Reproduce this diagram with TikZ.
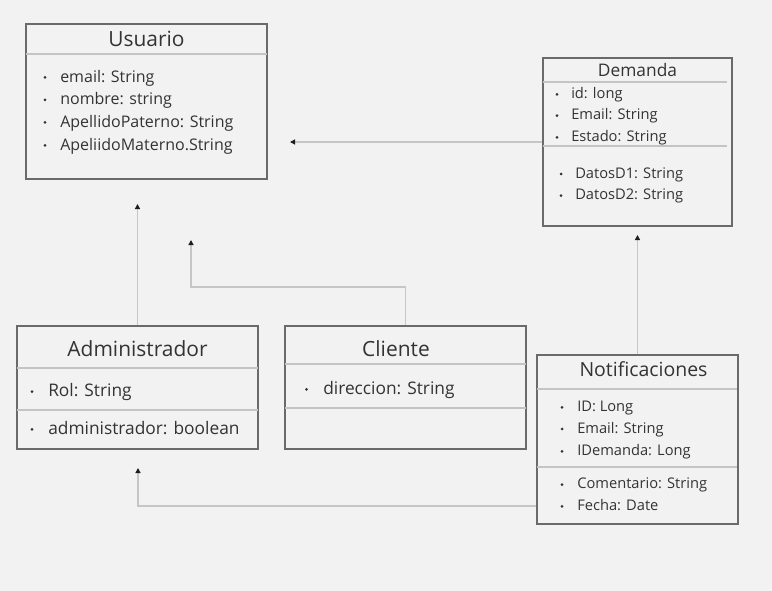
\documentclass[tikz,border=0pt]{standalone}
\usepackage{fontspec}
\setmainfont{Open Sans}
\usetikzlibrary{arrows.meta,fit}
\definecolor{bgc}{HTML}{F2F2F2}
\definecolor{txt}{HTML}{333333}
\definecolor{brd}{HTML}{6A6A6A}
\definecolor{sepc}{HTML}{C4C4C4}
\definecolor{conc}{HTML}{C6C6C6}
\definecolor{tipc}{HTML}{1E1E1E}
\newcommand\fs[1]{\fontsize{#1}{#1}\selectfont}
\tikzset{
  umlbox/.style={draw=brd, line width=1pt, inner sep=0pt},
  sepline/.style={draw=sepc, line width=1.1pt},
  conn/.style={draw=conc, line width=1.1pt, -{Triangle[length=3.8pt,width=3.8pt,color=tipc]}},
  ttl/.style={text=txt, inner sep=0pt, font=\fs{#1}, text height={0.714*#1pt}, text depth=0pt, anchor=center},
  itemtxt/.style={text=txt, inner sep=0pt, font=\fs{#1}, text height={0.714*#1pt}, text depth=0pt, anchor=west},
}
% name, font size (pt), bullet x, text x, y, text
\newcommand\itm[6]{%
  \fill[txt] (#3,#5+1) circle (1.5);
  \node[itemtxt=#2] (#1) at (#4,#5) {#6};}
\begin{document}
\begin{tikzpicture}[x=0.75pt,y=-0.75pt]
\fill[bgc] (0,0) rectangle (772,591);
\useasboundingbox (0,0) rectangle (772,591);

% ---------- Usuario
\node[umlbox, fit={(26,24) (267,179)}] (usuario) {};
\node[ttl=15.7] (usuarioT) at (146.5,39) {Usuario};
\draw[sepline] (26,54) -- (267,54);
\itm{u1}{12}{45}{60}{76.5}{email: String}
\itm{u2}{12}{45}{60}{99}{nombre: string}
\itm{u3}{12}{45}{60}{121.5}{ApellidoPaterno: String}
\itm{u4}{12}{45}{60}{144.5}{ApeliidoMaterno.String}

% ---------- Demanda
\node[umlbox, fit={(543,58) (732,226)}] (demanda) {};
\node[ttl=13] (demandaT) at (637.5,70) {Demanda};
\draw[sepline] (543,82) -- (727,82);
\itm{d1}{11}{557}{571}{93.5}{id: long}
\itm{d2}{11}{557}{571}{114.7}{Email: String}
\itm{d3}{11}{557}{571}{136.3}{Estado: String}
\draw[sepline] (543,146) -- (727,146);
\itm{d4}{11}{561}{575}{173}{DatosD1: String}
\itm{d5}{11}{561}{575}{194.7}{DatosD2: String}

% ---------- Administrador
\node[umlbox, fit={(17,326) (258,449)}] (admin) {};
\node[ttl=15.7] (adminT) at (137.5,349) {Administrador};
\draw[sepline] (17,368) -- (258,368);
\itm{a1}{13}{32}{48}{390.7}{Rol: String}
\draw[sepline] (17,410) -- (258,410);
\itm{a2}{13}{32}{48}{428.3}{administrador: boolean}

% ---------- Cliente
\node[umlbox, fit={(285,326) (526,449)}] (cliente) {};
\node[ttl=15.7] (clienteT) at (396,349) {Cliente};
\draw[sepline] (285,364) -- (526,364);
\itm{c1}{13}{306.5}{323}{388.3}{direccion: String}
\draw[sepline] (285,408) -- (526,408);

% ---------- Notificaciones
\node[umlbox, fit={(537,355) (738,524)}] (notif) {};
\node[ttl=14.6] (notifT) at (643.5,369.3) {Notificaciones};
\draw[sepline] (537,389) -- (737,389);
\itm{n1}{11}{562}{577}{406.3}{ID: Long}
\itm{n2}{11}{562}{577}{428}{Email: String}
\itm{n3}{11}{562}{577}{450.3}{IDemanda: Long}
\draw[sepline] (537,467) -- (737,467);
\itm{n4}{11}{562}{577}{483.7}{Comentario: String}
\itm{n5}{11}{562}{577}{505.3}{Fecha: Date}

% ---------- connectors
\coordinate (e1) at (290,142);
\coordinate (e2) at (137.5,204);
\coordinate (k3) at (191,287);
\coordinate (e3) at (191,240);
\coordinate (e4) at (637.5,235);
\coordinate (k5) at (138,506);
\coordinate (e5) at (138,468);

\draw[conn] (demanda.west) -- (e1);
\draw[conn] (admin.north) -- (e2);
\draw[conn] (cliente.north) |- (k3) -- (e3);
\draw[conn] (notif.north) -- (e4);
\draw[conn] (notif.west |- k5) -- (k5) -- (e5);
\end{tikzpicture}
\end{document}
